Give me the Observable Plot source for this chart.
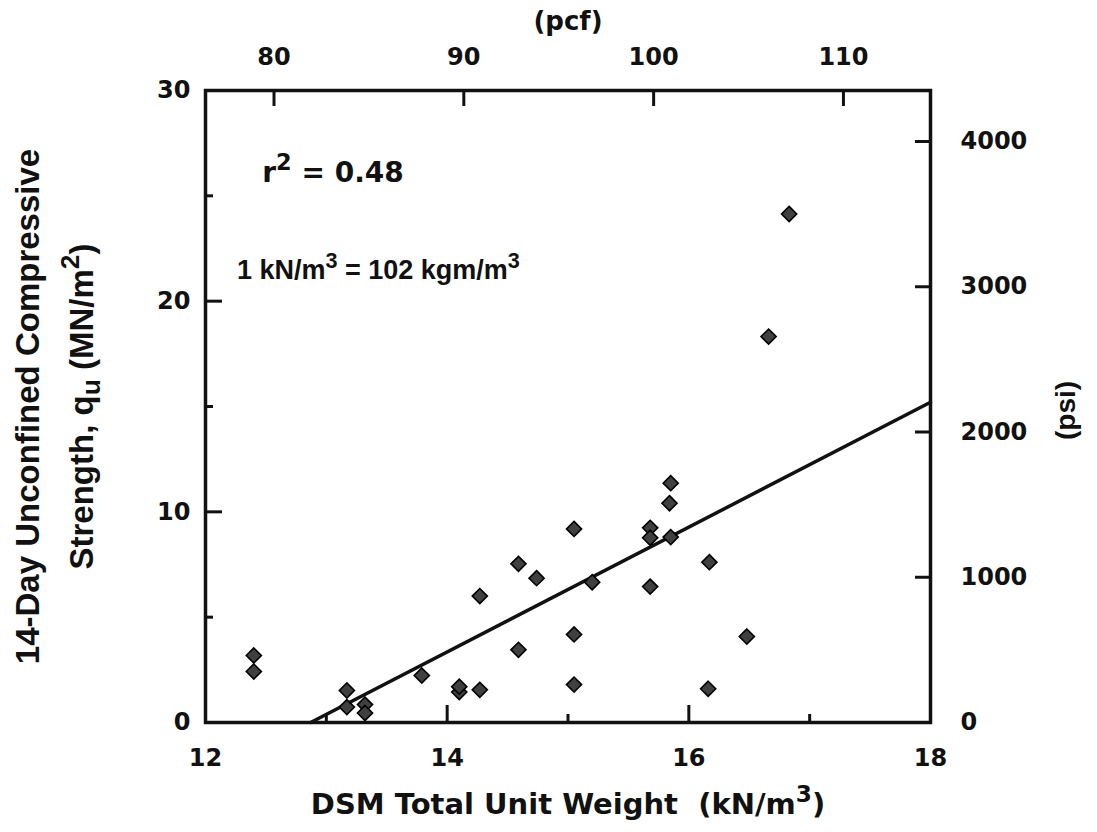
<!DOCTYPE html>
<html>
<head>
<meta charset="utf-8">
<script src="https://cdn.jsdelivr.net/npm/d3@7"></script>
<script src="https://cdn.jsdelivr.net/npm/@observablehq/plot@0.6"></script>
<style>
  html, body { margin: 0; padding: 0; background: #fff; }
  svg text { white-space: pre; }
</style>
</head>
<body>
<div id="chart"></div>
<script>
// ---- data ----
const unitWeight = [12.40, 12.40, 13.17, 13.17, 13.32, 13.32, 13.79, 14.10, 14.10, 14.27, 14.27,
                    14.59, 14.59, 14.74, 15.05, 15.05, 15.05, 15.20, 15.85, 15.84, 15.68, 15.68,
                    15.85, 16.17, 15.68, 16.48, 16.16, 16.66, 16.83];
const strength   = [3.18, 2.42, 1.52, 0.73, 0.85, 0.45, 2.23, 1.45, 1.70, 1.55, 6.00,
                    7.53, 3.45, 6.85, 9.19, 4.18, 1.80, 6.66, 11.36, 10.41, 9.24, 8.77,
                    8.80, 7.61, 6.45, 4.08, 1.60, 18.32, 24.14];
const fitX = [12.87, 18];
const fitY = [0, 15.2];
const xMajorTicks = [12, 14, 16, 18];
const xMinorTicks = [13, 15, 17];
const yMajorTicks = [0, 10, 20, 30];
const yMinorTicks = [5, 15, 25];
const pcfTicks = [80, 90, 100, 110];
const psiTicks = [0, 1000, 2000, 3000, 4000];
const PCF_TO_KN = 0.157087;     // 1 pcf in kN/m3
const PSI_PER_MN = 145.038;     // psi per MN/m2
const noteR2 = [{x: 12.47, y: 26.1, t: "r^{2} = 0.48"}];
const noteUnit = [{x: 12.26, y: 21.45, t: "1 kN/m^{3} = 102 kgm/m^{3}"}];
const xTitle = "DSM Total Unit Weight  (kN/m^{3})";
const yTitle1 = "14-Day Unconfined Compressive";
const yTitle2 = "Strength, q_{u} (MN/m^{2})";
const topTitle = "(pcf)";
const rightTitle = "(psi)";

const points = unitWeight.map((x, i) => ({x, y: strength[i]}));
const fit = fitX.map((x, i) => ({x, y: fitY[i]}));

const SANS = "'DejaVu Sans', sans-serif";
const ARIAL = "'Liberation Sans', Arial, sans-serif";
const ink = "#111";

const chart = Plot.plot({
  width: 1097,
  height: 832,
  marginLeft: 205,
  marginRight: 167,
  marginTop: 90,
  marginBottom: 110,
  x: {domain: [12, 18]},
  y: {domain: [0, 30]},
  style: {fontFamily: SANS, fontWeight: "bold", fontSize: "24px", color: ink, background: "#fff"},
  marks: [
    // bottom axis (kN/m3), inward ticks
    Plot.axisX(xMajorTicks, {anchor: "bottom", label: null, tickSize: 17, dy: -17, tickPadding: 26, strokeWidth: 3, fontSize: 24, tickFormat: d => String(d)}),
    Plot.axisX(xMinorTicks, {anchor: "bottom", label: null, tickSize: 8, dy: -8, strokeWidth: 3, tickFormat: () => ""}),
    // top axis (pcf)
    Plot.axisX(pcfTicks.map(p => p * PCF_TO_KN), {anchor: "top", label: null, tickSize: 15, dy: 15, tickPadding: 26, strokeWidth: 3, fontSize: 24,
      tickFormat: d => String(Math.round(d / PCF_TO_KN))}),
    // left axis (MN/m2)
    Plot.axisY(yMajorTicks, {anchor: "left", label: null, tickSize: 17, dx: 17, tickPadding: 15, strokeWidth: 3, fontSize: 24, tickFormat: d => String(d)}),
    Plot.axisY(yMinorTicks, {anchor: "left", label: null, tickSize: 8, dx: 8, strokeWidth: 3, tickFormat: () => ""}),
    // right axis (psi)
    Plot.axisY(psiTicks.map(p => p / PSI_PER_MN), {anchor: "right", label: null, tickSize: 16, dx: -16, tickPadding: 30, strokeWidth: 3, fontSize: 24,
      tickFormat: d => String(Math.round(d * PSI_PER_MN))}),
    Plot.frame({stroke: ink, strokeWidth: 3.5}),
    // regression line
    Plot.line(fit, {x: "x", y: "y", stroke: ink, strokeWidth: 3.5}),
    // data
    Plot.dot(points, {x: "x", y: "y", symbol: "diamond2", r: 6.8, fill: "#404040", stroke: "#000", strokeWidth: 1.6}),
    // annotations
    Plot.text(noteR2, {x: "x", y: "y", text: "t", textAnchor: "start", lineAnchor: "middle", fontSize: 28, fill: ink}),
    Plot.text(noteUnit, {x: "x", y: "y", text: "t", textAnchor: "start", lineAnchor: "middle", fontSize: 27, fontFamily: ARIAL, fill: ink}),
    // titles
    Plot.text([xTitle], {text: d => d, frameAnchor: "bottom", textAnchor: "middle", lineAnchor: "middle", dy: 82, fontSize: 29, fill: ink}),
    Plot.text([topTitle], {text: d => d, frameAnchor: "top", textAnchor: "middle", lineAnchor: "middle", dy: -69, fontSize: 26, fill: ink}),
    Plot.text([yTitle1], {text: d => d, frameAnchor: "left", textAnchor: "middle", lineAnchor: "middle", dx: -177, rotate: -90, fontSize: 33, fontFamily: ARIAL, fill: ink}),
    Plot.text([yTitle2], {text: d => d, frameAnchor: "left", textAnchor: "middle", lineAnchor: "middle", dx: -123, rotate: -90, fontSize: 33, fontFamily: ARIAL, fill: ink}),
    Plot.text([rightTitle], {text: d => d, frameAnchor: "right", textAnchor: "middle", lineAnchor: "middle", dx: 136, dy: 4, rotate: -90, fontSize: 28, fontFamily: ARIAL, fill: ink})
  ]
});

document.getElementById("chart").appendChild(chart);

// turn ^{..} and _{..} markup into real super/subscripts
function richText(node) {
  const s = node.textContent;
  if (!/[\^_]\{/.test(s)) return;
  const fs = parseFloat(getComputedStyle(node).fontSize) || 24;
  node.textContent = "";
  const re = /([\^_])\{([^}]*)\}/g;
  let last = 0, m;
  const add = (t, kind) => {
    const ts = document.createElementNS("http://www.w3.org/2000/svg", "tspan");
    ts.textContent = t;
    if (kind === "^") {
      ts.setAttribute("baseline-shift", (0.42 * fs).toFixed(1) + "px");
      ts.setAttribute("font-size", (0.8 * fs).toFixed(1) + "px");
    } else if (kind === "_") {
      ts.setAttribute("baseline-shift", (-0.22 * fs).toFixed(1) + "px");
      ts.setAttribute("font-size", (0.8 * fs).toFixed(1) + "px");
    }
    node.appendChild(ts);
  };
  while ((m = re.exec(s))) {
    if (m.index > last) add(s.slice(last, m.index));
    add(m[2], m[1]);
    last = re.lastIndex;
  }
  if (last < s.length) add(s.slice(last));
}
d3.select(chart).selectAll("text").each(function () { richText(this); });
</script>
</body>
</html>
